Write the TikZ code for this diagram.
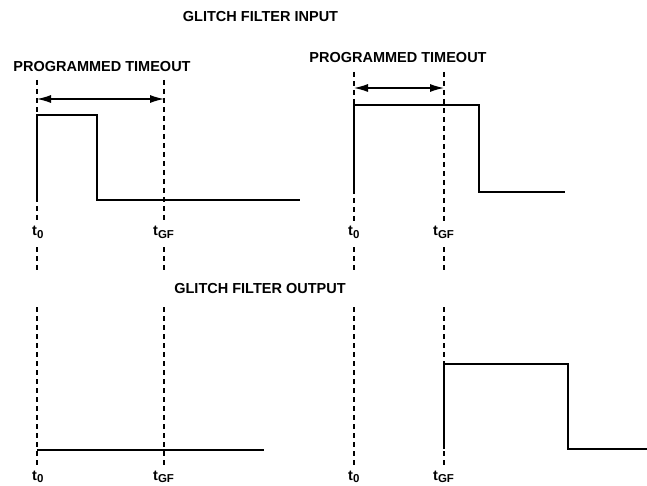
\documentclass[tikz,border=0pt]{standalone}
\usepackage{fontspec}
\setmainfont{Liberation Sans}
\usetikzlibrary{arrows.meta}

\newcommand{\tsub}[1]{t\raisebox{-0.35ex}{\fontsize{11.5}{12}\selectfont #1}}

\begin{document}
\begin{tikzpicture}[x=1pt, y=-1pt, >=Latex, every node/.style={font=\bfseries\fontsize{14.5}{17}\selectfont, inner sep=0pt}]
\tikzset{guide/.style={line width=1.3pt, dash pattern=on 5pt off 4pt},
  wave/.style={line width=2.6pt, line join=miter},
  span/.style={<->, line width=1.2pt, >={Latex[length=14pt,width=8pt]}}}
\clip (0,0) rectangle (647,486);
\node (inTitle) at (260.5,17) {GLITCH FILTER INPUT};
\node (outTitle) at (260,289) {GLITCH FILTER OUTPUT};
\node (timeoutL) at (102,67) {PROGRAMMED TIMEOUT};
\node (timeoutR) at (398,58) {PROGRAMMED TIMEOUT};
% time markers, top row and bottom row
\foreach \n/\x/\y/\s/\o in {a/37/80/0/5, b/164/80/GF/11, c/354/72/0/6, d/444/72/GF/11}{
  \coordinate (top\n) at (\x,\y);
  \coordinate (mid\n) at (\x,270);
  \coordinate (low\n) at (\x,307);
  \coordinate (end\n) at (\x,465);
  \node[anchor=base west] (tin\n) at (\x-\o,235.5) {\tsub{\s}};
  \node[anchor=base west] (tout\n) at (\x-\o,480) {\tsub{\s}};
  \draw[guide] (top\n) -- (\x,221);
  \draw[guide] (\x,247) -- (mid\n);
  \draw[guide] (low\n) -- (end\n);
}
\coordinate (la) at (37,99); \coordinate (lb) at (164,99);
\coordinate (ra) at (354,88); \coordinate (rb) at (444,88);
\draw[span] (la) -- (lb);
\draw[span] (ra) -- (rb);
% waveforms
\draw[wave] (37,200) -- (37,115) -- (97,115) -- (97,200) -- (300,200);
\draw[wave] (354,192) -- (354,105) -- (479,105) -- (479,192) -- (565,192);
\draw[wave] (37,450) -- (264,450);
\draw[wave] (444,449) -- (444,364) -- (568,364) -- (568,449) -- (647,449);
\end{tikzpicture}
\end{document}
